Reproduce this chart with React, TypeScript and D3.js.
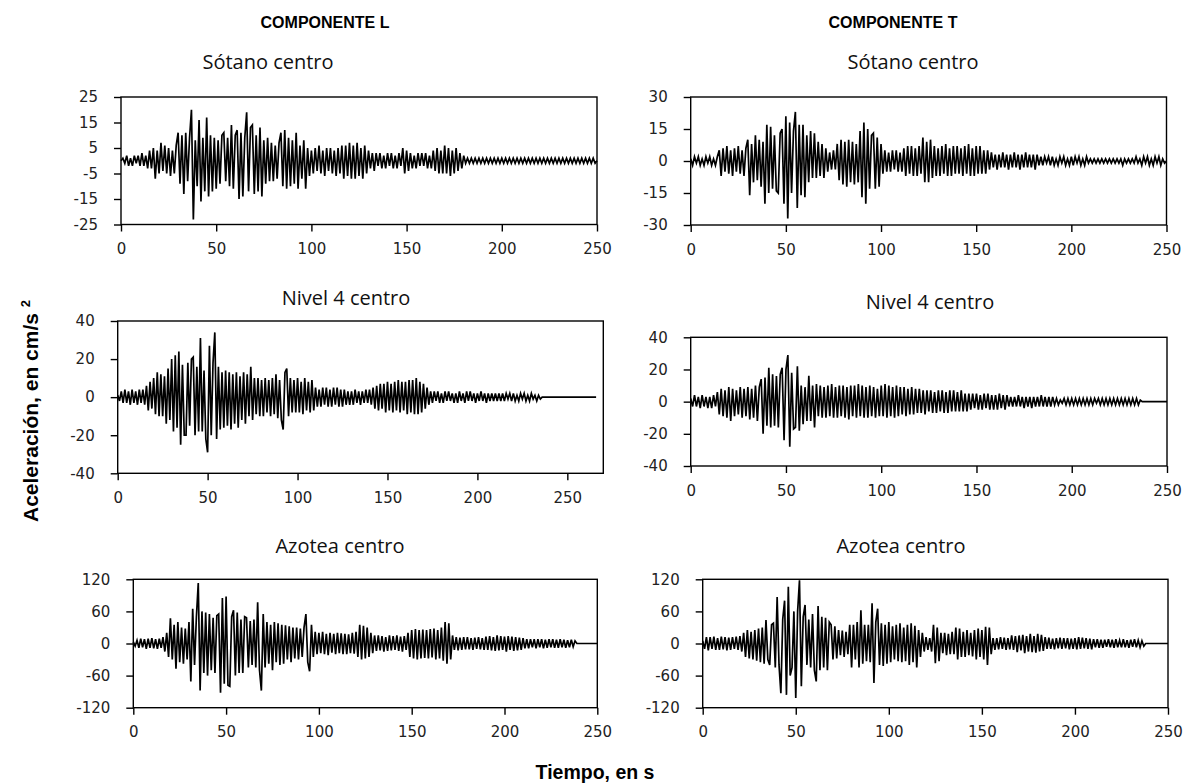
import React, { useEffect, useRef } from "react";
import * as d3 from "d3";

// acceleration samples, one per second (cm/s2)
const sotanoL = [
  0, 1, -1, 2, -2, 1, -2, 2, -1, 2,
  -2, 3, -2, 2, -3, 4, -3, 5, -7, 4,
  -5, 7, -4, 6, -5, 5, -6, 4, -5, 6,
  11, -9, 10, -13, 11, -8, 9, 20, -23, 8,
  -10, 16, -16, 9, -12, 17, -14, 10, -12, 9,
  -11, 8, -9, 10, 11, -8, 9, -10, 14, -11,
  10, 12, -15, 11, -14, 9, 19, -12, 13, 14,
  -13, 10, -12, 13, -14, 8, -9, 9, -8, 7,
  -8, 6, -7, 7, 11, -10, 12, -11, 9, -10,
  8, -9, 11, -11, 6, -7, 8, -11, 5, -6,
  4, -5, 5, -4, 6, -5, 4, -6, 5, -4,
  5, -5, 4, -6, 5, -5, 6, -7, 6, -6,
  7, -7, 6, -7, 7, -6, 5, -7, 6, -5,
  4, -3, 3, -4, 3, -2, 3, -3, 2, -3,
  3, -2, 3, -3, 2, -3, 3, -2, 5, -5,
  4, -4, 3, -3, 2, -3, 3, -2, 3, -2,
  3, -3, 2, -3, 4, -4, 5, -5, 4, -5,
  6, -5, 5, -6, 4, -5, 5, -4, 3, -3,
  2, -1, 1, -1, 1, -1, 1, -1, 1, -1,
  1, -1, 1, -1, 1, -1, 1, -1, 1, -1,
  1, -1, 1, -1, 1, -1, 1, -1, 1, -1,
  1, -1, 1, -1, 1, -1, 1, -1, 1, -1,
  1, -1, 1, -1, 1, -1, 1, -1, 1, -1,
  1, -1, 1, -1, 1, -1, 1, -1, 1, -1,
  1, -1, 1, -1, 1, -1, 1, -1, 1, -1,
  0,
];

const sotanoT = [
  1, -2, 2, -1, 2, -2, 1, -2, 2, -1,
  2, -2, 1, -2, 2, 5, -7, 6, -5, 7,
  -6, 5, -7, 6, -5, 7, -6, 5, -7, 6,
  10, -16, 8, -10, 12, -9, 10, -12, 9, -20,
  17, -15, 16, -13, 12, -14, -15, 13, 15, -20,
  21, -27, 18, -15, 14, 23, -22, 17, -16, 17,
  -17, 12, -10, 14, -8, 13, -8, 9, -7, 8,
  -8, 6, -5, 4, -4, 5, -4, 8, -9, 10,
  -11, 9, -12, 10, -10, 9, -11, 8, -10, 14,
  -17, 18, -20, 15, -13, 12, 13, -13, 11, -12,
  8, -6, 5, -5, 4, -5, 5, -4, 5, -5,
  4, -5, 6, -7, 7, -6, 7, -7, 6, -7,
  7, -6, 11, -10, 9, -10, 10, -8, 7, -7,
  6, -7, 7, -6, 8, -7, 6, -7, 7, -6,
  7, -6, 6, -7, 7, -6, 8, -7, 6, -7,
  7, -6, 7, -6, 5, -6, 5, -4, 4, -3,
  3, -4, 3, -3, 4, -3, 3, -4, 3, -3,
  4, -3, 3, -4, 3, -3, 4, -3, 3, -3,
  3, -4, 3, -2, 2, -2, 2, -1, 2, -2,
  2, -2, 1, -2, 2, -1, 2, -2, 1, -2,
  2, -2, 2, -1, 2, -2, 1, -2, 2, -1,
  1, -1, 1, -1, 1, -1, 1, -1, 1, -1,
  1, -1, 1, -1, 1, -1, 1, -2, 1, -1,
  1, -1, 1, -1, 2, -1, 1, -2, 2, -1,
  2, -2, 1, -2, 2, -1, 2, -2, 1, -1,
  0,
];

const nivel4L = [
  1, -2, 3, -3, 4, -3, 3, -4, 4, -3,
  3, -4, 4, -3, 4, -4, 6, -7, 8, -6,
  10, -9, 13, -10, 12, -10, 11, -14, 15, -12,
  20, -18, 22, -16, 24, -25, 17, -20, -20, 18,
  -15, 20, 21, -20, 16, -18, 31, -18, 14, -22,
  -29, 27, -20, 18, 34, -22, 16, -17, 13, -16,
  14, -15, 13, -17, 12, -14, 13, -16, 11, -12,
  13, -14, 12, -10, 16, -12, 10, -9, 10, -10,
  9, -10, 10, -8, 9, -10, 10, -9, 12, -11,
  9, -12, -17, 13, 15, -10, 10, -8, 9, -8,
  10, -8, 8, -9, 10, -7, 8, -8, 9, -7,
  5, -5, 4, -5, 5, -4, 5, -5, 4, -5,
  5, -4, 5, -5, 4, -5, 4, -4, 3, -4,
  3, -4, 4, -3, 3, -4, 3, -3, 4, -3,
  4, -4, 5, -6, 6, -7, 7, -6, 7, -8,
  8, -7, 7, -8, 8, -7, 9, -8, 8, -7,
  8, -9, 9, -8, 9, -9, 10, -9, 8, -8,
  7, -6, 5, -4, 3, -3, 3, -2, 3, -3,
  2, -3, 3, -2, 3, -2, 2, -3, 2, -3,
  3, -2, 2, -3, 3, -2, 3, -2, 2, -3,
  2, -2, 3, -2, 2, -3, 2, -2, 2, -2,
  2, -2, 2, -2, 2, -2, 2, -1, 2, -2,
  2, -2, 1, -2, 2, -1, 2, -2, 1, -2,
  2, -1, 1, -2, 1, -1, 0, 0, 0, 0,
  0, 0, 0, 0, 0, 0, 0, 0, 0, 0,
  0, 0, 0, 0, 0, 0, 0, 0, 0, 0,
  0, 0, 0, 0, 0, 0, 0,
];

const nivel4T = [
  2, -3, 4, -3, 3, -4, 4, -3, 3, -4,
  3, -4, 4, -3, 6, -8, 8, -9, 7, -10,
  9, -12, 8, -9, 7, -8, 9, -10, 8, -9,
  9, -11, 8, -10, 10, -12, 9, 14, -20, 15,
  -15, 21, -16, 17, -15, 16, -16, 17, 21, -24,
  20, 29, -28, 18, -17, -16, 22, -18, 10, -14,
  9, -12, 16, -12, 10, -16, 11, -9, 10, -10,
  9, -10, 10, -9, 11, -10, 9, -10, 10, -9,
  10, -10, 9, -11, 10, -9, 10, -10, 11, -9,
  10, -10, 9, -10, 10, -9, 9, -10, 8, -9,
  10, -9, 11, -10, 10, -9, 9, -10, 10, -9,
  9, -8, 9, -9, 8, -8, 9, -8, 8, -7,
  8, -7, 7, -8, 7, -6, 7, -7, 6, -7,
  7, -6, 7, -7, 6, -7, 7, -6, 7, -6,
  6, -6, 7, -6, 5, -6, 5, -5, 5, -4,
  5, -5, 4, -5, 5, -4, 5, -5, 4, -5,
  4, -5, 5, -4, 4, -5, 4, -3, 3, -3,
  3, -3, 4, -3, 3, -4, 3, -3, 3, -4,
  3, -3, 3, -3, 4, -3, 3, -3, 3, -3,
  3, -2, 2, -2, 1, -1, 2, -2, 2, -2,
  2, -2, 2, -2, 2, -2, 2, -2, 2, -2,
  2, -2, 2, -1, 2, -2, 2, -2, 2, -2,
  2, -2, 2, -2, 2, -2, 2, -2, 2, -2,
  2, -2, 2, -2, 2, -2, 1, 0, 0, 0,
  0, 0, 0, 0, 0, 0, 0, 0, 0, 0,
  0,
];

const azoteaL = [
  3, -5, 6, -8, 9, -7, 8, -10, 9, -8,
  10, -9, 8, -10, 9, -8, 12, -15, 20, -25,
  47, -30, 35, -47, 40, -35, 30, -38, 28, -30,
  40, -71, 65, -40, 50, 113, -88, 60, -55, 58,
  -60, 55, -50, 48, -55, 52, 55, -92, 85, -75,
  88, -78, -80, 50, 62, -60, 58, -55, 45, -55,
  50, 48, -45, 42, -40, 45, -45, 77, -50, -88,
  55, -45, 40, -38, 35, -50, 40, -35, 38, -40,
  35, -38, 34, -30, 32, -35, 30, -28, 30, -30,
  28, -25, 30, 55, -35, -52, 35, -25, 22, -20,
  20, -18, 22, -20, 18, -22, 20, -17, 18, -20,
  20, -18, 19, -20, 18, -20, 17, -18, 20, -19,
  22, -25, 35, -30, 33, -28, 30, -25, 20, -18,
  15, -14, 15, -13, 14, -15, 12, -14, 15, -13,
  14, -12, 15, -14, 13, -15, 14, -12, 20, -25,
  25, -28, 27, -30, 25, -28, 26, -27, 25, -28,
  27, -26, 28, -30, 25, -28, 30, -32, 40, -38,
  38, -30, 15, -12, 12, -13, 11, -12, 12, -11,
  12, -11, 10, -12, 11, -10, 12, -11, 10, -12,
  13, -12, 14, -13, 12, -14, 15, -13, 14, -12,
  13, -15, 14, -12, 13, -14, 12, -13, 11, -12,
  10, -9, 8, -9, 8, -7, 8, -9, 8, -7,
  8, -9, 7, -8, 8, -7, 8, -8, 7, -8,
  8, -7, 7, -8, 6, -7, 7, -6, 5, 0,
  0, 0, 0, 0, 0, 0, 0, 0, 0, 0,
  0,
];

const azoteaT = [
  5, -10, 12, -13, 12, -10, 13, -12, 10, -12,
  13, -11, 12, -13, 11, -12, 12, -10, 13, -12,
  14, -15, 20, -25, 25, -28, 22, -30, 25, -32,
  28, -35, 30, -38, 44, -30, -40, 35, 38, -45,
  87, -40, -93, 45, 80, -96, 106, -60, -45, 60,
  -102, 60, 118, -80, 50, 72, -40, 45, -45, 55,
  -50, -71, 70, -50, 50, -45, 48, -50, 40, 35,
  -30, 32, -28, 25, -22, 24, -25, 22, -20, 35,
  -45, 35, -30, 40, -45, 62, -38, 35, -33, 35,
  -35, 75, -74, 40, 65, -40, 38, -42, 35, -38,
  40, -35, 32, -30, 35, -33, 38, -35, 30, -33,
  35, -40, 38, -35, 33, -45, 25, -25, 20, -15,
  12, -12, 10, -15, 35, -37, 30, -33, 20, -18,
  20, -22, 18, -20, 22, -20, 30, -30, 28, -25,
  22, -25, 25, -22, 20, -24, 25, -30, 28, -25,
  25, -30, 31, -40, 30, -20, 10, -12, 10, -11,
  12, -10, 11, -12, 10, -11, 15, -12, 14, -16,
  15, -13, 16, -18, 14, -15, 18, -16, 14, -17,
  18, -15, 16, -14, 12, -10, 11, -10, 9, -11,
  10, -9, 11, -10, 10, -9, 10, -11, 9, -10,
  10, -11, 12, -10, 11, -9, 10, -10, 9, -11,
  8, -7, 8, -8, 7, -8, 7, -6, 8, -7,
  7, -8, 8, -7, 6, -7, 8, -7, 6, -8,
  7, -6, 8, -7, 6, -7, 5, -5, 0, 0,
  0, 0, 0, 0, 0, 0, 0, 0, 0, 0,
  0,
];

const xTicks = [0, 50, 100, 150, 200, 250];
const yTicksSotanoL = [-25, -15, -5, 5, 15, 25];
const yTicksSotanoT = [-30, -15, 0, 15, 30];
const yTicksNivel4 = [-40, -20, 0, 20, 40];
const yTicksAzotea = [-120, -60, 0, 60, 120];

const panels = [
  { title: "Sótano centro", data: sotanoL, yTicks: yTicksSotanoL, xMax: 250,
    left: 121, right: 597, top: 97, bottom: 224.5, titleX: 268, titleY: 69 },
  { title: "Sótano centro", data: sotanoT, yTicks: yTicksSotanoT, xMax: 250,
    left: 690.7, right: 1166.5, top: 97, bottom: 225, titleX: 913, titleY: 69 },
  { title: "Nivel 4 centro", data: nivel4L, yTicks: yTicksNivel4, xMax: 270,
    left: 117.7, right: 603.3, top: 321, bottom: 473.3, titleX: 346, titleY: 305 },
  { title: "Nivel 4 centro", data: nivel4T, yTicks: yTicksNivel4, xMax: 250,
    left: 690.7, right: 1167, top: 337.3, bottom: 466, titleX: 930, titleY: 309 },
  { title: "Azotea centro", data: azoteaL, yTicks: yTicksAzotea, xMax: 250,
    left: 133.3, right: 597.3, top: 579.3, bottom: 707.7, titleX: 340, titleY: 553 },
  { title: "Azotea centro", data: azoteaT, yTicks: yTicksAzotea, xMax: 250,
    left: 702.7, right: 1168, top: 579.3, bottom: 707.7, titleX: 901, titleY: 553 },
];

const W = 1195;
const H = 784;

export default function App() {
  const ref = useRef<SVGSVGElement | null>(null);

  useEffect(() => {
    const svg = d3.select(ref.current);
    svg.selectAll("*").remove();

    svg.append("rect").attr("width", W).attr("height", H).attr("fill", "#fff");

    panels.forEach((p) => {
      const yMax = d3.max(p.yTicks) as number;
      const x = d3.scaleLinear().domain([0, p.xMax]).range([p.left, p.right]);
      const y = d3.scaleLinear().domain([-yMax, yMax]).range([p.bottom, p.top]);

      // title
      svg
        .append("text")
        .attr("x", p.titleX)
        .attr("y", p.titleY)
        .attr("text-anchor", "middle")
        .style("font-family", "'Open Sans', sans-serif")
        .style("font-size", "20px")
        .attr("fill", "#111")
        .text(p.title);

      // waveform
      const line = d3
        .line<number>()
        .x((d, i) => x(i))
        .y((d) => y(d));

      svg
        .append("path")
        .datum(p.data)
        .attr("d", line)
        .attr("fill", "none")
        .attr("stroke", "#000")
        .attr("stroke-width", 1.7)
        .attr("stroke-linejoin", "miter");

      // frame
      svg
        .append("rect")
        .attr("x", p.left)
        .attr("y", p.top)
        .attr("width", p.right - p.left)
        .attr("height", p.bottom - p.top)
        .attr("fill", "none")
        .attr("stroke", "#000")
        .attr("stroke-width", 1.4);

      // Y axis
      const gy = svg
        .append("g")
        .attr("transform", `translate(${p.left},0)`)
        .call(
          d3.axisLeft(y).tickValues(p.yTicks).tickSize(7).tickSizeOuter(0)
            .tickPadding(16).tickFormat((d) => String(d))
        );
      gy.select(".domain").remove();

      // X axis
      const gx = svg
        .append("g")
        .attr("transform", `translate(0,${p.bottom})`)
        .call(
          d3.axisBottom(x).tickValues(xTicks).tickSize(7).tickSizeOuter(0)
            .tickPadding(12).tickFormat((d) => String(d))
        );
      gx.select(".domain").remove();

      [gx, gy].forEach((g) => {
        g.selectAll("line").attr("stroke", "#000").attr("stroke-width", 1.4);
        g.selectAll("text")
          .style("font-family", "'DejaVu Sans', sans-serif")
          .style("font-size", "15px")
          .attr("fill", "#222");
      });
    });

    // headers
    [
      { text: "COMPONENTE L", x: 325 },
      { text: "COMPONENTE T", x: 893 },
    ].forEach((h) => {
      svg
        .append("text")
        .attr("x", h.x)
        .attr("y", 28)
        .attr("text-anchor", "middle")
        .style("font-family", "'Liberation Sans', Arial, sans-serif")
        .style("font-size", "16px")
        .style("font-weight", "bold")
        .text(h.text);
    });

    // Y axis label
    const yl = svg
      .append("text")
      .attr("transform", "translate(38,411) rotate(-90)")
      .attr("text-anchor", "middle")
      .style("font-family", "'Liberation Sans', Arial, sans-serif")
      .style("font-size", "21px")
      .style("font-weight", "bold");
    yl.append("tspan").text("Aceleración, en cm/s ");
    yl.append("tspan").attr("dy", -8).style("font-size", "13px").text("2");

    // X axis label
    svg
      .append("text")
      .attr("x", 595)
      .attr("y", 779)
      .attr("text-anchor", "middle")
      .style("font-family", "'Liberation Sans', Arial, sans-serif")
      .style("font-size", "19.5px")
      .style("font-weight", "bold")
      .text("Tiempo, en s");
  }, []);

  return (
    <svg
      ref={ref}
      width={W}
      height={H}
      style={{ position: "absolute", left: 0, top: 0 }}
    />
  );
}
